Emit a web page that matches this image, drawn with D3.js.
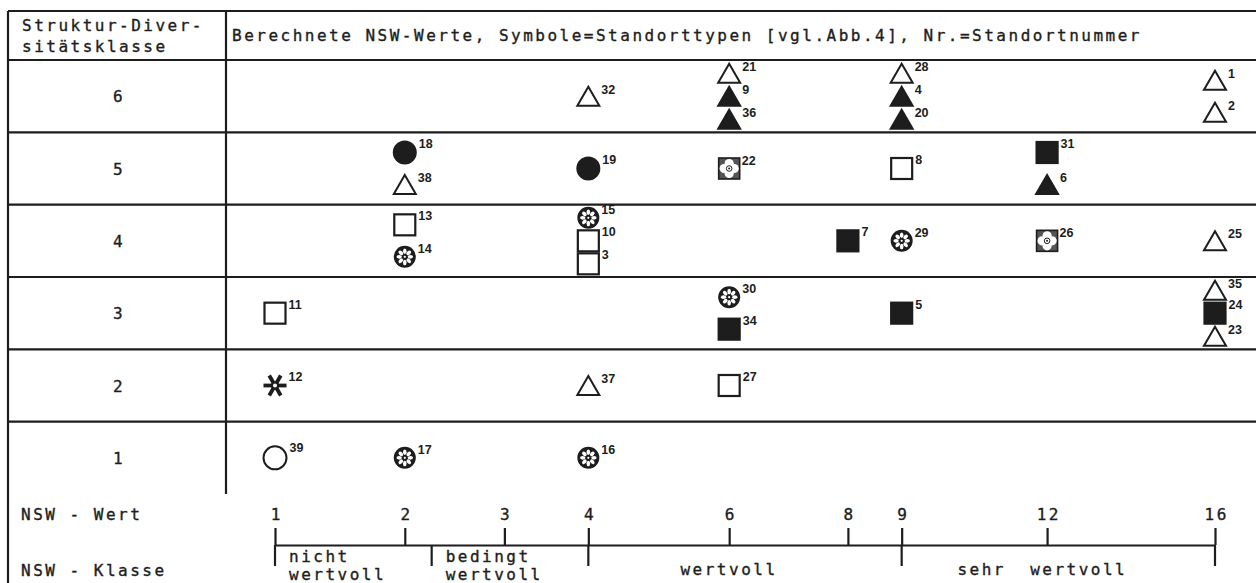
<!DOCTYPE html>
<html>
<head>
<meta charset="utf-8">
<script src="https://cdn.jsdelivr.net/npm/d3@7"></script>
<style>
html, body { margin: 0; padding: 0; background: #fff; }
svg { display: block; }
</style>
</head>
<body>
<div id="chart"></div>
<script>
// ---- 1. DATA ----
const diversityClasses = [1, 2, 3, 4, 5, 6];
const nswTicks = [1, 2, 3, 4, 6, 8, 9, 12, 16];
const nswClassBounds = [1, 2.25, 4, 9, 16];
const nswClassLabels = [["nicht", "wertvoll"], ["bedingt", "wertvoll"], ["wertvoll"], ["sehr  wertvoll"]];
const headerLeft = ["Struktur-Diver-", "sitätsklasse"];
const headerRight = "Berechnete NSW-Werte, Symbole=Standorttypen [vgl.Abb.4], Nr.=Standortnummer";
const footerLabels = ["NSW - Wert", "NSW - Klasse"];

// Standorte: nr, NSW-Wert, Diversitätsklasse, Standorttyp (listed top to bottom inside each cell)
const sites = [
    {nr: 32, nsw: 4,  cls: 6, typ: "triOpen"},
    {nr: 21, nsw: 6,  cls: 6, typ: "triOpen"},
    {nr: 9,  nsw: 6,  cls: 6, typ: "triFill"},
    {nr: 36, nsw: 6,  cls: 6, typ: "triFill"},
    {nr: 28, nsw: 9,  cls: 6, typ: "triOpen"},
    {nr: 4,  nsw: 9,  cls: 6, typ: "triFill"},
    {nr: 20, nsw: 9,  cls: 6, typ: "triFill"},
    {nr: 1,  nsw: 16, cls: 6, typ: "triOpen"},
    {nr: 2,  nsw: 16, cls: 6, typ: "triOpen"},

    {nr: 18, nsw: 2,  cls: 5, typ: "dotFill"},
    {nr: 38, nsw: 2,  cls: 5, typ: "triOpen"},
    {nr: 19, nsw: 4,  cls: 5, typ: "dotFill"},
    {nr: 22, nsw: 6,  cls: 5, typ: "pattern"},
    {nr: 8,  nsw: 9,  cls: 5, typ: "sqOpen"},
    {nr: 31, nsw: 12, cls: 5, typ: "sqFill"},
    {nr: 6,  nsw: 12, cls: 5, typ: "triFill"},

    {nr: 13, nsw: 2,  cls: 4, typ: "sqOpen"},
    {nr: 14, nsw: 2,  cls: 4, typ: "wheel"},
    {nr: 15, nsw: 4,  cls: 4, typ: "wheel"},
    {nr: 10, nsw: 4,  cls: 4, typ: "sqOpen"},
    {nr: 3,  nsw: 4,  cls: 4, typ: "sqOpen"},
    {nr: 7,  nsw: 8,  cls: 4, typ: "sqFill"},
    {nr: 29, nsw: 9,  cls: 4, typ: "wheel"},
    {nr: 26, nsw: 12, cls: 4, typ: "pattern"},
    {nr: 25, nsw: 16, cls: 4, typ: "triOpen"},

    {nr: 11, nsw: 1,  cls: 3, typ: "sqOpen"},
    {nr: 30, nsw: 6,  cls: 3, typ: "wheel"},
    {nr: 34, nsw: 6,  cls: 3, typ: "sqFill"},
    {nr: 5,  nsw: 9,  cls: 3, typ: "sqFill"},
    {nr: 35, nsw: 16, cls: 3, typ: "triOpen"},
    {nr: 24, nsw: 16, cls: 3, typ: "sqFill"},
    {nr: 23, nsw: 16, cls: 3, typ: "triOpen"},

    {nr: 12, nsw: 1,  cls: 2, typ: "star"},
    {nr: 37, nsw: 4,  cls: 2, typ: "triOpen"},
    {nr: 27, nsw: 6,  cls: 2, typ: "sqOpen"},

    {nr: 39, nsw: 1,  cls: 1, typ: "ring"},
    {nr: 17, nsw: 2,  cls: 1, typ: "wheel"},
    {nr: 16, nsw: 4,  cls: 1, typ: "wheel"},
];

// ---- 2. SVG + FRAME ----
const W = 1256, H = 583;
const ink = "#1d1d1d";
const mono = "'DejaVu Sans Mono', monospace";
const frame = {left: 8, top: 11, divX: 226, headBottom: 60, tableBottom: 494};

const svg = d3.select("#chart")
    .append("svg")
    .attr("width", W)
    .attr("height", H);

svg.append("rect").attr("width", W).attr("height", H).attr("fill", "#fff");

// ---- 3. SCALES ----
const y = d3.scaleBand()
    .domain(diversityClasses)
    .range([frame.tableBottom, frame.headBottom]);

// NSW axis is drawn on a square-root scale (1, 4, 9, 16 equally spaced)
const x = d3.scalePow().exponent(0.5)
    .domain([1, 16])
    .range([275, 1215]);

// table lines
const hLines = [frame.top, frame.headBottom, ...diversityClasses.map(c => y(c))];
svg.append("g")
    .selectAll("line")
    .data(hLines)
    .enter()
    .append("line")
    .attr("x1", frame.left).attr("x2", W + 2)
    .attr("y1", d => d).attr("y2", d => d)
    .attr("stroke", ink).attr("stroke-width", 2.2);

svg.append("line")
    .attr("x1", frame.left).attr("x2", frame.left)
    .attr("y1", frame.top).attr("y2", H + 2)
    .attr("stroke", ink).attr("stroke-width", 2.2);

svg.append("line")
    .attr("x1", frame.divX).attr("x2", frame.divX)
    .attr("y1", frame.top).attr("y2", frame.tableBottom)
    .attr("stroke", ink).attr("stroke-width", 2.2);

// ---- 4. HEADER TEXT ----
function monoText(sel) {
    return sel.attr("font-family", mono)
        .attr("font-size", 16)
        .attr("letter-spacing", 2.5)
        .attr("fill", ink)
        .attr("stroke", ink)
        .attr("stroke-width", 0.35);
}

svg.append("g")
    .selectAll("text")
    .data(headerLeft)
    .enter()
    .append("text")
    .attr("x", 22)
    .attr("y", (d, i) => 31 + i * 21)
    .call(monoText)
    .text(d => d);

svg.append("text")
    .attr("x", 232)
    .attr("y", 41)
    .call(monoText)
    .text(headerRight);

// row labels
svg.append("g")
    .selectAll("text")
    .data(diversityClasses)
    .enter()
    .append("text")
    .attr("x", (frame.left + frame.divX) / 2 + 2)
    .attr("y", d => y(d) + y.bandwidth() / 2 + 6)
    .attr("text-anchor", "middle")
    .call(monoText)
    .text(d => d);

// ---- 5. SYMBOLS ----
const sizes = {
    triOpen: [22, 19], triFill: [22, 19],
    sqOpen: [23, 23], sqFill: [23, 23],
    dotFill: [24, 24], ring: [25, 25],
    wheel: [22, 22], pattern: [21, 21], star: [23, 23]
};

function drawSymbol(g, typ) {
    const [w, h] = sizes[typ];
    if (typ === "triOpen" || typ === "triFill") {
        g.append("path")
            .attr("d", `M0,${-h / 2}L${w / 2},${h / 2}L${-w / 2},${h / 2}Z`)
            .attr("fill", typ === "triFill" ? ink : "#fff")
            .attr("stroke", ink).attr("stroke-width", 2)
            .attr("stroke-linejoin", "miter");
    } else if (typ === "sqOpen" || typ === "sqFill") {
        g.append("rect")
            .attr("x", -w / 2 + 1).attr("y", -h / 2 + 1)
            .attr("width", w - 2).attr("height", h - 2)
            .attr("fill", typ === "sqFill" ? ink : "#fff")
            .attr("stroke", ink).attr("stroke-width", 2.2);
    } else if (typ === "dotFill" || typ === "ring") {
        g.append("circle")
            .attr("r", typ === "ring" ? w / 2 - 1 : w / 2)
            .attr("fill", typ === "dotFill" ? ink : "#fff")
            .attr("stroke", ink).attr("stroke-width", typ === "ring" ? 2 : 0);
    } else if (typ === "wheel") {
        g.append("circle").attr("r", w / 2).attr("fill", ink);
        g.selectAll("ellipse")
            .data(d3.range(8))
            .enter()
            .append("ellipse")
            .attr("cx", 0).attr("cy", -5.6)
            .attr("rx", 1.8).attr("ry", 2.7)
            .attr("transform", d => `rotate(${d * 45})`)
            .attr("fill", "#fff");
        g.append("circle").attr("r", 1.1).attr("fill", "#fff");
    } else if (typ === "pattern") {
        g.append("rect")
            .attr("x", -w / 2).attr("y", -h / 2)
            .attr("width", w).attr("height", h)
            .attr("fill", "#555").attr("stroke", ink).attr("stroke-width", 1.6);
        [[0, -5], [0, 5], [-5, 0], [5, 0]].forEach(([cx, cy]) => {
            g.append("circle").attr("cx", cx).attr("cy", cy).attr("r", 4.6).attr("fill", "#fff");
        });
        g.append("circle").attr("r", 2.8).attr("fill", "#fff").attr("stroke", ink).attr("stroke-width", 1);
        g.append("circle").attr("r", 1).attr("fill", ink);
    } else if (typ === "star") {
        [0, 60, 120].forEach(a => {
            g.append("line")
                .attr("x1", -w / 2).attr("x2", w / 2)
                .attr("y1", 0).attr("y2", 0)
                .attr("transform", `rotate(${a})`)
                .attr("stroke", ink).attr("stroke-width", 3.8);
        });
        g.append("circle").attr("r", 3).attr("fill", "#fff").attr("stroke", ink).attr("stroke-width", 2);
    }
}

// stack the symbols of one cell vertically around the row centre
const cells = d3.group(sites, d => d.cls, d => d.nsw);
const placed = [];
for (const [cls, byNsw] of cells) {
    for (const [nsw, list] of byNsw) {
        const n = list.length;
        const gap = n === 2 ? 32 : 23;
        list.forEach((d, i) => {
            placed.push({
                ...d,
                cx: x(nsw),
                cy: y(cls) + y.bandwidth() / 2 + (i - (n - 1) / 2) * gap
            });
        });
    }
}

const sym = svg.append("g")
    .selectAll("g")
    .data(placed)
    .enter()
    .append("g")
    .attr("transform", d => `translate(${d.cx},${d.cy})`);

sym.each(function(d) { drawSymbol(d3.select(this), d.typ); });

sym.append("text")
    .attr("x", d => sizes[d.typ][0] / 2 + 2)
    .attr("y", d => -sizes[d.typ][1] / 2 + 7)
    .attr("font-family", "'Liberation Sans', Arial, sans-serif")
    .attr("font-weight", "bold")
    .attr("font-size", 12.5)
    .attr("fill", ink)
    .text(d => d.nr);

// ---- 6. NSW AXIS ----
const axisY = 545;
const axisG = svg.append("g")
    .attr("transform", `translate(0,${axisY})`)
    .call(d3.axisTop(x)
        .tickValues(nswTicks)
        .tickFormat(d3.format("d"))
        .tickSize(17)
        .tickSizeOuter(0)
        .tickPadding(8));

axisG.select(".domain").attr("stroke", ink).attr("stroke-width", 2.2);
axisG.selectAll(".tick line").attr("stroke", ink).attr("stroke-width", 2.2);
axisG.selectAll(".tick text")
    .call(monoText)
    .attr("dx", 1.2);

// class boundaries below the axis
svg.append("g")
    .selectAll("line")
    .data(nswClassBounds)
    .enter()
    .append("line")
    .attr("x1", d => x(d)).attr("x2", d => x(d))
    .attr("y1", axisY).attr("y2", axisY + 21)
    .attr("stroke", ink).attr("stroke-width", 2.2);

// class labels
const classG = svg.append("g");
nswClassLabels.forEach((lines, i) => {
    const x0 = x(nswClassBounds[i]), x1 = x(nswClassBounds[i + 1]);
    if (lines.length === 2) {
        lines.forEach((t, j) => {
            classG.append("text")
                .attr("x", x0 + 14)
                .attr("y", axisY + 17 + j * 18)
                .call(monoText)
                .text(t);
        });
    } else {
        classG.append("text")
            .attr("x", (x0 + x1) / 2 - 16)
            .attr("y", axisY + 30)
            .attr("text-anchor", "middle")
            .style("white-space", "pre")
            .call(monoText)
            .text(lines[0]);
    }
});

// footer labels
svg.append("g")
    .selectAll("text")
    .data(footerLabels)
    .enter()
    .append("text")
    .attr("x", 21)
    .attr("y", (d, i) => 520 + i * 56)
    .style("white-space", "pre")
    .call(monoText)
    .text(d => d);
</script>
</body>
</html>
